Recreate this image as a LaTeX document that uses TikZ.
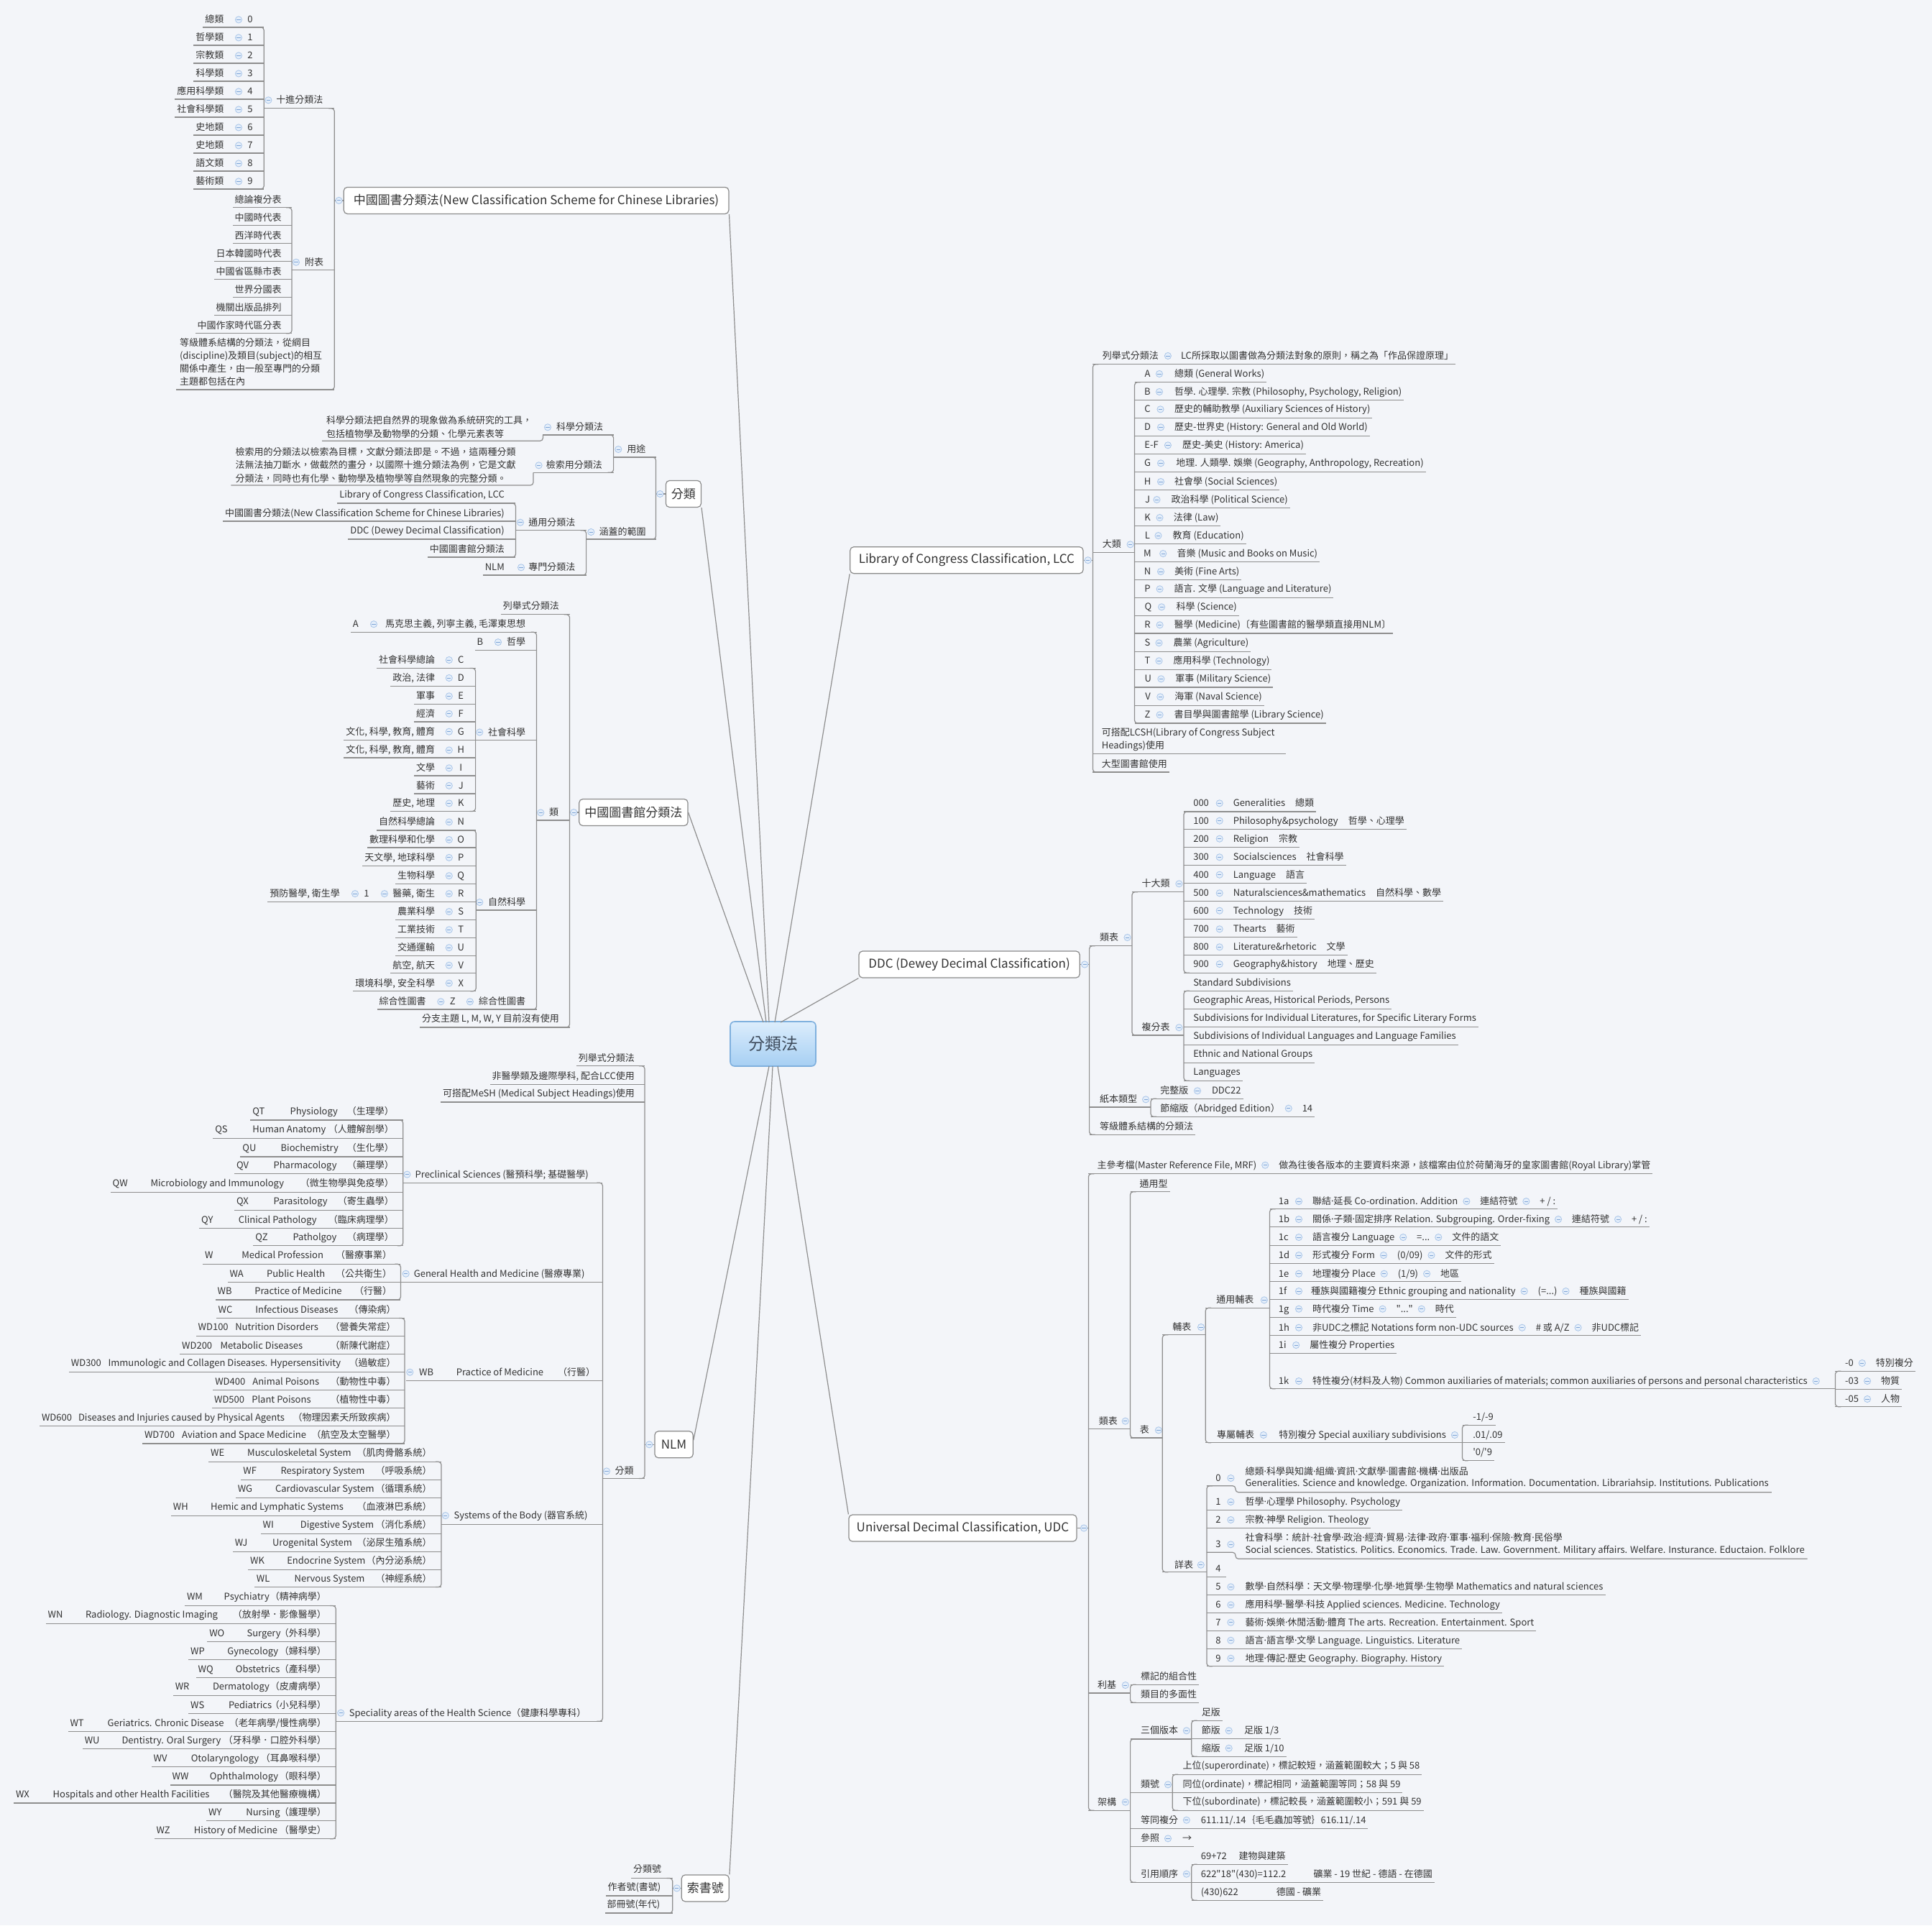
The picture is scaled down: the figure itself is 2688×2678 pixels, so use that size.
\documentclass[tikz,border=0pt]{standalone}
\usepackage{fontspec}
\setmainfont{Noto Sans CJK TC}
\newfontfamily\lat{Noto Sans}
\definecolor{bgc}{HTML}{F3F5F9}
\definecolor{lnc}{HTML}{8E8E8E}
\definecolor{txc}{HTML}{333333}
\definecolor{mnb}{HTML}{A9C5E8}
\definecolor{mnf}{HTML}{E4EEFA}
\definecolor{mnl}{HTML}{7EA4D6}
\definecolor{boxb}{HTML}{8A8A8A}
\definecolor{ctop}{HTML}{DCEDFC}
\definecolor{cbot}{HTML}{A6CFF3}
\definecolor{cbd}{HTML}{7FB0DE}
\definecolor{ctx}{HTML}{3E4B5B}
\tikzset{
 tx/.style={inner sep=0pt,outer sep=0pt,text=txc,font=\fontsize{6.5}{8}\selectfont},
 ln/.style={draw=lnc,line width=0.6pt},
 mn/.style={circle,draw=mnb,fill=mnf,line width=0.4pt,minimum size=4.6pt,inner sep=0pt,outer sep=0pt,
   path picture={\draw[mnl,line width=0.5pt] ([xshift=-1.3pt]path picture bounding box.center) -- ([xshift=1.3pt]path picture bounding box.center);}},
 bx/.style={draw=boxb,fill=white,rounded corners=2.5pt,line width=0.6pt,inner sep=0pt,text=txc,font=\fontsize{8.5}{10}\selectfont,minimum height=18.5pt},
}
\newcommand\dq{\XeTeXglyph\XeTeXcharglyph"22\relax}
\newcommand\sq{\XeTeXglyph\XeTeXcharglyph"27\relax}
\newcommand\md{{\lat ·}}
\newcounter{nn}
\newcommand\zE[3]{\stepcounter{nn}\node[tx,anchor=base east] (n\arabic{nn}) at (#1,#2+4.5) {#3};}
\newcommand\zW[3]{\stepcounter{nn}\node[tx,anchor=base west] (n\arabic{nn}) at (#1,#2+4.5) {#3};}
\newcommand\zC[3]{\stepcounter{nn}\node[tx,anchor=base] (n\arabic{nn}) at (#1,#2+4.5) {#3};}
\newcommand\zM[2]{\stepcounter{nn}\node[mn] (n\arabic{nn}) at (#1,#2) {};}
\newcommand\zMn[2]{\coordinate (w) at (0,#2);\path (n\arabic{nn}.east |- w) ++(#1,0) coordinate (v);\stepcounter{nn}\node[mn] (n\arabic{nn}) at (v) {};}
\newcommand\zWn[3]{\coordinate (w) at (0,#2+4.5);\path (n\arabic{nn}.east |- w) ++(#1,0) coordinate (v);\stepcounter{nn}\node[tx,anchor=base west] (n\arabic{nn}) at (v) {#3};}
\newcommand\zUL[2]{\coordinate (w) at (#1,#2);\draw[ln] (w) -- (n\arabic{nn}.west |- w) -- ++(-3,0);}
\newcommand\zUR[2]{\coordinate (w) at (#1,#2);\draw[ln] (w) -- (n\arabic{nn}.east |- w) -- ++(3,0);}
\newcommand\zU[3]{\draw[ln] (#1,#3) -- (#2,#3);}
\newcommand\zBL[3]{\draw[ln,rounded corners=2pt] (#1-8,#2) -- (#1,#2) -- (#1,#3) -- (#1-8,#3);}
\newcommand\zBR[3]{\draw[ln,rounded corners=2pt] (#1+8,#2) -- (#1,#2) -- (#1,#3) -- (#1+8,#3);}
\begin{document}
\begin{tikzpicture}[x=0.5pt,y=-0.5pt]
\useasboundingbox (0,0) rectangle (2688,2678);
\fill[fill=bgc] (0,0) rectangle (2688,2678);

% ---------- central topic and main topics
\node[draw=cbd,line width=0.8pt,top color=ctop,bottom color=cbot,rounded corners=3pt,minimum width=59.5pt,minimum height=31pt,inner sep=0pt,text=ctx,font=\fontsize{11.5}{12}\selectfont] (c) at (1075.5,1452) {分類法};
\node[bx,minimum width=267.8pt] (b1) at (746.1,278.9) {中國圖書分類法(New Classification Scheme for Chinese Libraries)};
\node[bx,minimum width=24.5pt] (b2) at (950.9,687) {分類};
\node[bx,minimum width=75.6pt] (b3) at (881.4,1130) {中國圖書館分類法};
\node[bx,minimum width=26.6pt] (b4) at (937.6,2009.3) {NLM};
\node[bx,minimum width=33pt] (b5) at (981.3,2626.4) {索書號};
\node[bx,minimum width=162.1pt] (b6) at (1344.9,779.2) {Library of Congress Classification, LCC};
\node[bx,minimum width=153.6pt] (b7) at (1348.6,1341.5) {DDC (Dewey Decimal Classification)};
\node[bx,minimum width=158.5pt] (b8) at (1339.5,2125.5) {Universal Decimal Classification, UDC};

\coordinate (c1) at (1070,1422);
\coordinate (c2) at (1066,1422);
\coordinate (c3) at (1062,1422);
\coordinate (c6) at (1078,1422);
\coordinate (c7) at (1086,1422);
\coordinate (c4) at (1070,1483);
\coordinate (c5) at (1075,1483);
\coordinate (c8) at (1082,1483);
\draw[ln] (c1) -- (b1.south east);
\draw[ln] (c2) -- (b2.south east);
\draw[ln] (c3) -- (b3.east);
\draw[ln] (c6) -- (b6.south west);
\draw[ln] (c7) -- (b7.south west);
\draw[ln] (c4) -- ([yshift=3pt]b4.east);
\draw[ln] (c5) -- (b5.north east);
\draw[ln] (c8) -- (b8.north west);

% ---------- Region 1: 中國圖書分類法
\zBL{465.3}{150.8}{541.9}
\draw[ln] (b1.west) -- (465.3,278.9);
\zM{471.5}{278.9}
\zBL{367.2}{37.9}{262.9}
\zC{348}{27.4}{0}\zM{332}{27.4}\zE{311.4}{27.4}{總類}\zUL{367.2}{37.9}
\zC{348}{52.4}{1}\zM{332}{52.4}\zE{311.4}{52.4}{哲學類}\zUL{367.2}{62.9}
\zC{348}{77.4}{2}\zM{332}{77.4}\zE{311.4}{77.4}{宗教類}\zUL{367.2}{87.9}
\zC{348}{102.4}{3}\zM{332}{102.4}\zE{311.4}{102.4}{科學類}\zUL{367.2}{112.9}
\zC{348}{127.4}{4}\zM{332}{127.4}\zE{311.4}{127.4}{應用科學類}\zUL{367.2}{137.9}
\zC{348}{152.4}{5}\zM{332}{152.4}\zE{311.4}{152.4}{社會科學類}\zUL{367.2}{162.9}
\zC{348}{177.4}{6}\zM{332}{177.4}\zE{311.4}{177.4}{史地類}\zUL{367.2}{187.9}
\zC{348}{202.4}{7}\zM{332}{202.4}\zE{311.4}{202.4}{史地類}\zUL{367.2}{212.9}
\zC{348}{227.4}{8}\zM{332}{227.4}\zE{311.4}{227.4}{語文類}\zUL{367.2}{237.9}
\zC{348}{252.4}{9}\zM{332}{252.4}\zE{311.4}{252.4}{藝術類}\zUL{367.2}{262.9}
\zW{384.3}{139.3}{十進分類法}\zM{373.4}{139.3}\zU{367.2}{465.3}{150.8}
\zBL{406}{288.8}{463.8}
\zE{391.5}{277.8}{總論複分表}\zUL{406}{288.8}
\zE{391.5}{302.8}{中國時代表}\zUL{406}{313.8}
\zE{391.5}{327.8}{西洋時代表}\zUL{406}{338.8}
\zE{391.5}{352.8}{日本韓國時代表}\zUL{406}{363.8}
\zE{391.5}{377.8}{中國省區縣市表}\zUL{406}{388.8}
\zE{391.5}{402.8}{世界分國表}\zUL{406}{413.8}
\zE{391.5}{427.8}{機關出版品排列}\zUL{406}{438.8}
\zE{391.5}{452.8}{中國作家時代區分表}\zUL{406}{463.8}
\zW{424}{364.8}{附表}\zM{412}{364.8}\zU{406}{465.3}{375.3}
\zW{250}{477}{等級體系結構的分類法，從綱目}
\zW{250}{494.6}{(discipline)及類目(subject)的相互}
\zW{250}{512.8}{關係中產生，由一般至專門的分類}
\zW{250}{531.4}{主題都包括在內}
\zU{244.8}{465.3}{541.9}

% ---------- Region 2: 分類
\zBL{912.5}{636}{750}
\draw[ln] (b2.west) -- (912.5,687);
\zM{918.3}{687}
\zW{872.3}{625}{用途}\zM{860.3}{625}\zU{853.6}{912.5}{636}
\zBL{853.6}{605}{657.3}
\zW{774}{594.3}{科學分類法}\zM{762}{594.3}\zU{755.4}{853.6}{605}
\zW{454}{585}{科學分類法把自然界的現象做為系統研究的工具，}
\zW{454}{604.3}{包括植物學及動物學的分類、化學元素表等}
\draw[ln,rounded corners=2pt] (448.2,613.3) -- (755.4,613.3) -- (755.4,605);
\zW{759.8}{647.3}{檢索用分類法}\zM{749.6}{647.3}\zU{742}{853.6}{657.3}
\zW{327.7}{629.3}{檢索用的分類法以檢索為目標，文獻分類法即是。不過，這兩種分類}
\zW{327.7}{647.3}{法無法抽刀斷水，做截然的畫分，以國際十進分類法為例，它是文獻}
\zW{327.7}{666}{分類法，同時也有化學、動物學及植物學等自然現象的完整分類。}
\draw[ln,rounded corners=2pt] (321.4,675) -- (742,675) -- (742,657.3);
\zW{833.5}{740}{涵蓋的範圍}\zM{822.3}{740}\zU{815.6}{912.5}{750}
\zBL{815.6}{737.7}{800}
\zW{735.3}{726.7}{通用分類法}\zM{724}{726.7}\zU{717.4}{815.6}{737.7}
\zBL{717.4}{700}{775}
\zE{701.8}{688.3}{Library of Congress Classification, LCC}\zUL{717.4}{700}
\zE{701.8}{714}{中國圖書分類法(New Classification Scheme for Chinese Libraries)}\zUL{717.4}{725}
\zE{701.8}{738.3}{DDC (Dewey Decimal Classification)}\zUL{717.4}{750}
\zE{701.8}{764}{中國圖書館分類法}\zUL{717.4}{775}
\zW{735.3}{789.3}{專門分類法}\zM{725}{789.3}\zE{701.8}{789.3}{NLM}\zUL{815.6}{800}

% ---------- Region 3: 中國圖書館分類法
\zBL{792.5}{854.8}{1428.9}
\draw[ln] (b3.west) -- (792.5,1130);
\zM{798.2}{1130}
\zE{777.9}{842.9}{列舉式分類法}\zUL{792.5}{854.8}
\zE{777.2}{1130.4}{類}\zM{752.3}{1130.4}\zU{746.5}{792.5}{1141}
\zBL{746.5}{879.3}{1404}
\zE{731.2}{868.2}{馬克思主義, 列寧主義, 毛澤東思想}\zM{520}{868.2}\zC{494.7}{868.2}{A}\zUL{746.5}{879.3}
\zE{731.2}{893.2}{哲學}\zM{693}{893.2}\zC{668}{893.2}{B}\zUL{746.5}{904.2}
\zE{731.2}{1018.5}{社會科學}\zM{667.3}{1018.5}\zU{661.6}{746.5}{1029.6}
\zBL{661.6}{929.5}{1128.4}
\zC{641.3}{918}{C}\zM{624.8}{918}\zE{605}{918}{社會科學總論}\zUL{661.6}{929.5}
\zC{641.3}{943}{D}\zM{624.8}{943}\zE{605}{943}{政治, 法律}\zUL{661.6}{954.4}
\zC{641.3}{968.3}{E}\zM{624.8}{968.3}\zE{605}{968.3}{軍事}\zUL{661.6}{979.4}
\zC{641.3}{992.8}{F}\zM{624.8}{992.8}\zE{605}{992.8}{經濟}\zUL{661.6}{1003.9}
\zC{641.3}{1017.7}{G}\zM{624.8}{1017.7}\zE{605}{1017.7}{文化, 科學, 教育, 體育}\zUL{661.6}{1029.6}
\zC{641.3}{1043.4}{H}\zM{624.8}{1043.4}\zE{605}{1043.4}{文化, 科學, 教育, 體育}\zUL{661.6}{1054}
\zC{641.3}{1068.3}{I}\zM{624.8}{1068.3}\zE{605}{1068.3}{文學}\zUL{661.6}{1079}
\zC{641.3}{1092.8}{J}\zM{624.8}{1092.8}\zE{605}{1092.8}{藝術}\zUL{661.6}{1103.9}
\zC{641.3}{1117.4}{K}\zM{624.8}{1117.4}\zE{605}{1117.4}{歷史, 地理}\zUL{661.6}{1128.4}
\zE{731.2}{1255}{自然科學}\zM{667.3}{1255}\zU{662.3}{746.5}{1266}
\zBL{662.3}{1154.9}{1378.7}
\zC{641.3}{1143.4}{N}\zM{624.8}{1143.4}\zE{605}{1143.4}{自然科學總論}\zUL{662.3}{1154.9}
\zC{641.3}{1168}{O}\zM{624.8}{1168}\zE{605}{1168}{數理科學和化學}\zUL{662.3}{1179}
\zC{641.3}{1192.9}{P}\zM{624.8}{1192.9}\zE{605}{1192.9}{天文學, 地球科學}\zUL{662.3}{1204.3}
\zC{641.3}{1218.2}{Q}\zM{624.8}{1218.2}\zE{605}{1218.2}{生物科學}\zUL{662.3}{1229.3}
\zC{641.3}{1243.1}{R}\zM{624.8}{1243.1}\zE{605}{1243.1}{醫藥, 衛生}\zM{534.9}{1243.1}\zC{510}{1243.1}{1}\zM{494}{1243.1}\zE{472.9}{1243.1}{預防醫學, 衛生學}\zUL{662.3}{1254.2}
\zC{641.3}{1268}{S}\zM{624.8}{1268}\zE{605}{1268}{農業科學}\zUL{662.3}{1279.5}
\zC{641.3}{1293.3}{T}\zM{624.8}{1293.3}\zE{605}{1293.3}{工業技術}\zUL{662.3}{1304.4}
\zC{641.3}{1318.2}{U}\zM{624.8}{1318.2}\zE{605}{1318.2}{交通運輸}\zUL{662.3}{1329.3}
\zC{641.3}{1342.7}{V}\zM{624.8}{1342.7}\zE{605}{1342.7}{航空, 航天}\zUL{662.3}{1353.8}
\zC{641.3}{1367.6}{X}\zM{624.8}{1367.6}\zE{605}{1367.6}{環境科學, 安全科學}\zUL{662.3}{1378.7}
\zE{731.2}{1393.3}{綜合性圖書}\zM{653.9}{1393.3}\zC{629.8}{1393.3}{Z}\zM{613.3}{1393.3}\zE{592.7}{1393.3}{綜合性圖書}\zUL{746.5}{1404}
\zE{777.9}{1417}{分支主題 L, M, W, Y 目前沒有使用}\zUL{792.5}{1428.9}

% ---------- Region 4/5: NLM
\zBL{897}{1482.7}{2056.5}
\draw[ln] (b4.west) -- (897,2009.3);
\zM{903.3}{2009.3}
\zE{882.9}{1471.8}{列舉式分類法}\zUL{897}{1482.7}
\zE{882.9}{1496.5}{非醫學類及邊際學科, 配合LCC使用}\zUL{897}{1508.2}
\zE{882.9}{1520.9}{可搭配MeSH (Medical Subject Headings)使用}\zUL{897}{1532.9}
\zE{881.7}{2046.4}{分類}\zM{844}{2046.4}\zU{838.4}{897}{2056.5}
\zBL{838.4}{1645.2}{2394.3}
% Preclinical
\zW{577.6}{1633.6}{Preclinical Sciences (醫預科學; 基礎醫學)}\zM{566.4}{1633.6}\zU{560.8}{838.4}{1645.2}
\zBL{560.8}{1558}{1732.8}
\zE{547.9}{1546.3}{（生理學）}\zW{403.6}{1546.3}{Physiology}\zW{351.4}{1546.3}{QT}\zUL{560.8}{1558}
\zE{547.9}{1571}{（人體解剖學）}\zW{351.4}{1571}{Human Anatomy}\zW{299.3}{1571}{QS}\zUL{560.8}{1583.4}
\zE{547.9}{1596.5}{（生化學）}\zW{390.7}{1596.5}{Biochemistry}\zW{337.4}{1596.5}{QU}\zUL{560.8}{1608.9}
\zE{547.9}{1620.8}{（藥理學）}\zW{380.6}{1620.8}{Pharmacology}\zW{329}{1620.8}{QV}\zUL{560.8}{1632.8}
\zE{547.9}{1646.3}{（微生物學與免疫學）}\zW{209.5}{1646.3}{Microbiology and Immunology}\zW{156.7}{1646.3}{QW}\zUL{560.8}{1658.3}
\zE{547.9}{1671}{（寄生蟲學）}\zW{380.6}{1671}{Parasitology}\zW{329}{1671}{QX}\zUL{560.8}{1683.4}
\zE{547.9}{1696.5}{（臨床病理學）}\zW{331.8}{1696.5}{Clinical Pathology}\zW{280.2}{1696.5}{QY}\zUL{560.8}{1708.1}
\zE{547.9}{1720.8}{（病理學）}\zW{407.6}{1720.8}{Patholgoy}\zW{355.4}{1720.8}{QZ}\zUL{560.8}{1732.8}
% General Health
\zW{575.9}{1771.7}{General Health and Medicine (醫療專業)}\zM{564.7}{1771.7}\zU{557.4}{838.4}{1783.3}
\zBL{557.4}{1758.3}{1808}
\zE{545}{1746.3}{（醫療事業）}\zW{336.3}{1746.3}{Medical Profession}\zW{285.2}{1746.3}{W}\zUL{557.4}{1758.3}
\zE{545}{1771.7}{（公共衛生）}\zW{371.1}{1771.7}{Public Health}\zW{319.5}{1771.7}{WA}\zUL{557.4}{1783.3}
\zE{545}{1796.4}{（行醫）}\zW{354.3}{1796.4}{Practice of Medicine}\zW{302.6}{1796.4}{WB}\zUL{557.4}{1808}
% WB Practice of Medicine
\zW{583.2}{1908.7}{WB}\zW{634.8}{1908.7}{Practice of Medicine}\zW{776}{1908.7}{（行醫）}\zM{570.3}{1908.7}\zU{564.7}{838.4}{1920.7}
\zBL{563}{1833.5}{2008}
\zE{550.7}{1821.5}{（傳染病）}\zW{355.4}{1821.5}{Infectious Diseases}\zW{303.7}{1821.5}{WC}\zUL{563}{1833.5}
\zE{550.7}{1846.2}{（營養失常症）}\zW{327.3}{1846.2}{Nutrition Disorders}\zW{275.7}{1846.2}{WD100}\zUL{563}{1858.2}
\zE{550.7}{1871.7}{（新陳代謝症）}\zW{306.6}{1871.7}{Metabolic Diseases}\zW{253.2}{1871.7}{WD200}\zUL{563}{1883.3}
\zE{550.7}{1896.4}{（過敏症）}\zW{150.5}{1896.4}{Immunologic and Collagen Diseases. Hypersensitivity}\zW{98.9}{1896.4}{WD300}\zUL{563}{1908.7}
\zE{550.7}{1921.8}{（動物性中毒）}\zW{351.4}{1921.8}{Animal Poisons}\zW{299.3}{1921.8}{WD400}\zUL{563}{1933.5}
\zE{550.7}{1946.9}{（植物性中毒）}\zW{350.3}{1946.9}{Plant Poisons}\zW{298.1}{1946.9}{WD500}\zUL{563}{1958.2}
\zE{550.7}{1971.6}{（物理因素夭所致疾病）}\zW{109}{1971.6}{Diseases and Injuries caused by Physical Agents}\zW{58}{1971.6}{WD600}\zUL{563}{1983.3}
\zE{550.7}{1996}{（航空及太空醫學）}\zW{253.2}{1996}{Aviation and Space Medicine}\zW{201}{1996}{WD700}\zUL{563}{2008}
% Systems of the Body
\zW{631.5}{2108.1}{Systems of the Body (器官系統)}\zM{619.8}{2108.1}\zU{614}{838.4}{2120.2}
\zBL{614}{2033.3}{2207.5}
\zE{600.7}{2020.8}{（肌肉骨骼系統）}\zW{344.2}{2020.8}{Musculoskeletal System}\zW{293.1}{2020.8}{WE}\zUL{614}{2033.3}
\zE{600.7}{2046.3}{（呼吸系統）}\zW{390.6}{2046.3}{Respiratory System}\zW{338.4}{2046.3}{WF}\zUL{614}{2058.4}
\zE{600.7}{2071.3}{（循環系統）}\zW{383}{2071.3}{Cardiovascular System}\zW{330.8}{2071.3}{WG}\zUL{614}{2083.4}
\zE{600.7}{2096}{（血液淋巴系統）}\zW{293.1}{2096}{Hemic and Lymphatic Systems}\zW{240.9}{2096}{WH}\zUL{614}{2108.1}
\zE{600.7}{2121.1}{（消化系統）}\zW{417.9}{2121.1}{Digestive System}\zW{365.6}{2121.1}{WI}\zUL{614}{2133.2}
\zE{600.7}{2146.1}{（泌尿生殖系統）}\zW{379}{2146.1}{Urogenital System}\zW{326.8}{2146.1}{WJ}\zUL{614}{2158.2}
\zE{600.7}{2171.2}{（內分泌系統）}\zW{399.3}{2171.2}{Endocrine System}\zW{348.2}{2171.2}{WK}\zUL{614}{2183.3}
\zE{600.7}{2195.8}{（神經系統）}\zW{409.7}{2195.8}{Nervous System}\zW{356.9}{2195.8}{WL}\zUL{614}{2207.5}
% Speciality areas
\zW{485.8}{2382.6}{Speciality areas of the Health Science（健康科學專科）}\zM{474.2}{2382.6}\zU{467.2}{838.4}{2394.3}
\zBL{467.2}{2233.5}{2557.7}
\zE{453.9}{2221.4}{（精神病學）}\zW{311.7}{2221.4}{Psychiatry}\zW{260}{2221.4}{WM}\zUL{467.2}{2233.5}
\zE{453.9}{2246.4}{（放射學．影像醫學）}\zW{119}{2246.4}{Radiology. Diagnostic Imaging}\zW{66.7}{2246.4}{WN}\zUL{467.2}{2258.5}
\zE{453.9}{2271.5}{（外科學）}\zW{343.6}{2271.5}{Surgery}\zW{291.4}{2271.5}{WO}\zUL{467.2}{2283.6}
\zE{453.9}{2296.6}{（婦科學）}\zW{316.3}{2296.6}{Gynecology}\zW{265.2}{2296.6}{WP}\zUL{467.2}{2308.7}
\zE{453.9}{2321.7}{（產科學）}\zW{327.9}{2321.7}{Obstetrics}\zW{275.7}{2321.7}{WQ}\zUL{467.2}{2333.8}
\zE{453.9}{2346.3}{（皮膚病學）}\zW{296}{2346.3}{Dermatology}\zW{243.8}{2346.3}{WR}\zUL{467.2}{2358.4}
\zE{453.9}{2371.8}{（小兒科學）}\zW{318}{2371.8}{Pediatrics}\zW{265.2}{2371.8}{WS}\zUL{467.2}{2383.5}
\zE{453.9}{2396.5}{（老年病學/慢性病學）}\zW{149.7}{2396.5}{Geriatrics.  Chronic Disease}\zW{97.5}{2396.5}{WT}\zUL{467.2}{2408.1}
\zE{453.9}{2421.1}{（牙科學．口腔外科學）}\zW{169.5}{2421.1}{Dentistry. Oral Surgery}\zW{117.8}{2421.1}{WU}\zUL{467.2}{2432.8}
\zE{453.9}{2446.2}{（耳鼻喉科學）}\zW{265.8}{2446.2}{Otolaryngology}\zW{213.6}{2446.2}{WV}\zUL{467.2}{2457.8}
\zE{453.9}{2471.3}{（眼科學）}\zW{291.9}{2471.3}{Ophthalmology}\zW{239.7}{2471.3}{WW}\zUL{467.2}{2482.9}
\zE{453.9}{2495.9}{（醫院及其他醫療機構）}\zW{73.7}{2495.9}{Hospitals and other Health Facilities}\zW{22}{2495.9}{WX}\zUL{467.2}{2508}
\zE{453.9}{2521}{（護理學）}\zW{342.4}{2521}{Nursing}\zW{290.2}{2521}{WY}\zUL{467.2}{2532.6}
\zE{453.9}{2545.6}{（醫學史）}\zW{269.9}{2545.6}{History of Medicine}\zW{217.6}{2545.6}{WZ}\zUL{467.2}{2557.7}

% ---------- 索書號
\zBL{935.7}{2612.4}{2661}
\draw[ln] (b5.west) -- (935.7,2626.4);
\zM{941.7}{2626.4}
\zE{920}{2600}{分類號}\zUL{935.7}{2612.4}
\zE{919.3}{2624.8}{作者號(書號)}\zUL{935.7}{2637}
\zE{918.3}{2649.4}{部冊號(年代)}\zUL{935.7}{2661}

% ---------- LCC
\zBR{1520.4}{506.7}{1074}
\draw[ln] (b6.east) -- (1520.4,779.2);
\zM{1513.7}{779.2}
\zW{1533.8}{495}{列舉式分類法}\zM{1624.9}{495}\zW{1643}{495}{LC所採取以圖書做為分類法對象的原則，稱之為「作品保證原理」}\zUR{1520.4}{506.7}
\zW{1533.8}{757.3}{大類}\zM{1572.6}{757.3}\zU{1520.4}{1578.5}{768.3}
\zBR{1578.5}{531.7}{1006}
\zC{1596.5}{520}{A}\zM{1613}{520}\zW{1634}{520}{總類 (General Works)}\zUR{1578.5}{531.7}
\zC{1596.5}{545}{B}\zM{1613}{545}\zW{1634}{545}{哲學. 心理學. 宗教 (Philosophy, Psychology, Religion)}\zUR{1578.5}{556.7}
\zC{1596.5}{569.3}{C}\zM{1614.5}{569.3}\zW{1634}{569.3}{歷史的輔助教學 (Auxiliary Sciences of History)}\zUR{1578.5}{581.7}
\zC{1596.5}{594.3}{D}\zM{1615}{594.3}\zW{1634}{594.3}{歷史-世界史 (History: General and Old World)}\zUR{1578.5}{606.7}
\zC{1602}{619.3}{E-F}\zM{1624.9}{619.3}\zW{1645}{619.3}{歷史-美史 (History: America)}\zUR{1578.5}{631.7}
\zC{1596.5}{644.3}{G}\zM{1615}{644.3}\zW{1636.3}{644.3}{地理. 人類學. 娛樂 (Geography, Anthropology, Recreation)}\zUR{1578.5}{656.7}
\zC{1596.5}{670}{H}\zM{1615}{670}\zW{1634}{670}{社會學 (Social Sciences)}\zUR{1578.5}{681.7}
\zC{1596.5}{695}{J}\zM{1609.5}{695}\zW{1629.6}{695}{政治科學 (Political Science)}\zUR{1578.5}{706.7}
\zC{1596.5}{720}{K}\zM{1613.5}{720}\zW{1632.9}{720}{法律 (Law)}\zUR{1578.5}{731.7}
\zC{1596.5}{745}{L}\zM{1611.5}{745}\zW{1631.6}{745}{教育 (Education)}\zUR{1578.5}{756.7}
\zC{1596.5}{770}{M}\zM{1618.2}{770}\zW{1637.6}{770}{音樂 (Music and Books on Music)}\zUR{1578.5}{781.7}
\zC{1596.5}{795}{N}\zM{1615}{795}\zW{1634}{795}{美術 (Fine Arts)}\zUR{1578.5}{806.7}
\zC{1596.5}{819.3}{P}\zM{1613.6}{819.3}\zW{1633.6}{819.3}{語言. 文學 (Language and Literature)}\zUR{1578.5}{831.7}
\zC{1597.5}{844.3}{Q}\zM{1616.1}{844.3}\zW{1636.5}{844.3}{科學 (Science)}\zUR{1578.5}{856.7}
\zC{1596.5}{869.3}{R}\zM{1613.6}{869.3}\zW{1633.6}{869.3}{醫學 (Medicine)〔有些圖書館的醫學類直接用NLM〕}\zUR{1578.5}{881}
\zC{1596.5}{894.3}{S}\zM{1612.5}{894.3}\zW{1632.5}{894.3}{農業 (Agriculture)}\zUR{1578.5}{906.7}
\zC{1596.5}{919.3}{T}\zM{1612.5}{919.3}\zW{1632.5}{919.3}{應用科學 (Technology)}\zUR{1578.5}{931.7}
\zC{1597.2}{944.3}{U}\zM{1615.4}{944.3}\zW{1635.4}{944.3}{軍事 (Military Science)}\zUR{1578.5}{956}
\zC{1597}{969.3}{V}\zM{1614.3}{969.3}\zW{1634.3}{969.3}{海軍 (Naval Science)}\zUR{1578.5}{981.7}
\zC{1596.5}{994.3}{Z}\zM{1613.6}{994.3}\zW{1633.6}{994.3}{書目學與圖書館學 (Library Science)}\zUR{1578.5}{1006}
\zW{1532.9}{1019.3}{可搭配LCSH(Library of Congress Subject}
\zW{1532.9}{1037.3}{Headings)使用}
\zU{1520.4}{1788.8}{1048.7}
\zW{1532.9}{1063.3}{大型圖書館使用}\zUR{1520.4}{1074}

% ---------- DDC
\zBR{1515.6}{1315.7}{1578.3}
\draw[ln] (b7.east) -- (1515.6,1341.5);
\zM{1509.1}{1341.5}
\zW{1530.2}{1304}{類表}\zM{1568.5}{1304}\zU{1515.6}{1575}{1315.7}
\zBR{1575}{1240.7}{1440}
\zW{1588.7}{1229.3}{十大類}\zM{1640.4}{1229.3}\zU{1575}{1647}{1240.7}
\zBR{1647}{1129}{1353.3}
\zW{1660.3}{1117.3}{000}\zM{1696.7}{1117.3}\zW{1715.8}{1117.3}{Generalities}\zWn{14}{1117.3}{總類}\zUR{1647}{1129}
\zW{1660.3}{1141.7}{100}\zM{1696.7}{1141.7}\zW{1715.8}{1141.7}{Philosophy\&psychology}\zWn{14}{1141.7}{哲學、心理學}\zUR{1647}{1153.3}
\zW{1660.3}{1166.7}{200}\zM{1696.7}{1166.7}\zW{1715.8}{1166.7}{Religion}\zWn{14}{1166.7}{宗教}\zUR{1647}{1178.3}
\zW{1660.3}{1192.3}{300}\zM{1696.7}{1192.3}\zW{1715.8}{1192.3}{Socialsciences}\zWn{14}{1192.3}{社會科學}\zUR{1647}{1203.3}
\zW{1660.3}{1216.7}{400}\zM{1696.7}{1216.7}\zW{1715.8}{1216.7}{Language}\zWn{14}{1216.7}{語言}\zUR{1647}{1228.3}
\zW{1660.3}{1242.3}{500}\zM{1696.7}{1242.3}\zW{1715.8}{1242.3}{Naturalsciences\&mathematics}\zWn{14}{1242.3}{自然科學、數學}\zUR{1647}{1253.3}
\zW{1660.3}{1266.7}{600}\zM{1696.7}{1266.7}\zW{1715.8}{1266.7}{Technology}\zWn{14}{1266.7}{技術}\zUR{1647}{1278.3}
\zW{1660.3}{1292.3}{700}\zM{1696.7}{1292.3}\zW{1715.8}{1292.3}{Thearts}\zWn{14}{1292.3}{藝術}\zUR{1647}{1303.3}
\zW{1660.3}{1317.3}{800}\zM{1696.7}{1317.3}\zW{1715.8}{1317.3}{Literature\&rhetoric}\zWn{14}{1317.3}{文學}\zUR{1647}{1328.3}
\zW{1660.3}{1341}{900}\zM{1696.7}{1341}\zW{1715.8}{1341}{Geography\&history}\zWn{14}{1341}{地理、歷史}\zUR{1647}{1353.3}
\zW{1588.7}{1429.3}{複分表}\zM{1640.4}{1429.3}\zU{1575}{1647}{1440}
\zBR{1647}{1378.3}{1503.3}
\zW{1660.3}{1367.3}{Standard Subdivisions}\zUR{1647}{1378.3}
\zW{1660.3}{1391}{Geographic Areas, Historical Periods, Persons}\zUR{1647}{1403.3}
\zW{1660.3}{1416}{Subdivisions for Individual Literatures, for Specific Literary Forms}\zUR{1647}{1428.3}
\zW{1660.3}{1441}{Subdivisions of Individual Languages and Language Families}\zUR{1647}{1453.3}
\zW{1660.3}{1466}{Ethnic and National Groups}\zUR{1647}{1478.3}
\zW{1660.3}{1491}{Languages}\zUR{1647}{1503.3}
\zW{1530.2}{1529.3}{紙本類型}\zM{1594.1}{1529.3}\zU{1515.6}{1601}{1540}
\zBR{1601}{1528.3}{1553.3}
\zW{1614.4}{1517.3}{完整版}\zM{1666}{1517.3}\zW{1686}{1517.3}{DDC22}\zUR{1601}{1528.3}
\zW{1614.4}{1541.7}{節縮版（Abridged Edition）}\zMn{12}{1541.7}\zWn{14.4}{1541.7}{14}\zUR{1601}{1553.3}
\zW{1530.2}{1567.3}{等級體系結構的分類法}\zUR{1515.6}{1578.3}

% ---------- UDC
\zBR{1514.4}{1632.7}{2518.3}
\draw[ln] (b8.east) -- (1514.4,2125.5);
\zM{1508}{2125.5}
\zW{1526.7}{1620.7}{主參考檔(Master Reference File, MRF)}\zMn{12}{1620.7}\zWn{14.4}{1620.7}{做為往後各版本的主要資料來源，該檔案由位於荷蘭海牙的皇家圖書館(Royal Library)掌管}\zUR{1514.4}{1632.7}
\zW{1528.8}{1976.7}{類表}\zM{1565.7}{1976.7}\zU{1514.4}{1572.5}{1987.7}
\zBR{1572.5}{1657.7}{2000}
\zW{1585.5}{1646.7}{通用型}\zUR{1572.5}{1657.7}
\zW{1585.8}{1989.3}{表}\zM{1611.9}{1989.3}\zU{1572.5}{1617.3}{2000}
\zBR{1617.3}{1856.7}{2186.7}
\zW{1631.3}{1846}{輔表}\zM{1671}{1846}\zU{1617.3}{1677.2}{1856.7}
\zBR{1677.2}{1819.3}{2006.7}
\zW{1692.4}{1808.3}{通用輔表}\zM{1758.9}{1808.3}\zU{1677.2}{1766.5}{1819.3}
\zBR{1766.5}{1681.7}{1931.7}
\zW{1778.8}{1671}{1a}\zM{1807}{1671}\zW{1826.1}{1671}{聯結\md{}延長 Co-ordination. Addition}\zMn{12}{1671}\zWn{14.4}{1671}{連結符號}\zMn{12}{1671}\zWn{14.4}{1671}{+ / :}\zUR{1766.5}{1681.7}
\zW{1778.8}{1696}{1b}\zM{1807}{1696}\zW{1826.1}{1696}{關係\md{}子類\md{}固定排序 Relation. Subgrouping. Order-fixing}\zMn{12}{1696}\zWn{14.4}{1696}{連結符號}\zMn{12}{1696}\zWn{14.4}{1696}{+ / :}\zUR{1766.5}{1706.7}
\zW{1778.8}{1721}{1c}\zM{1807}{1721}\zW{1826.1}{1721}{語言複分 Language}\zMn{12}{1721}\zWn{14.4}{1721}{=...}\zMn{12}{1721}\zWn{14.4}{1721}{文件的語文}\zUR{1766.5}{1732.3}
\zW{1778.8}{1746}{1d}\zM{1807}{1746}\zW{1826.1}{1746}{形式複分 Form}\zMn{12}{1746}\zWn{14.4}{1746}{(0/09)}\zMn{12}{1746}\zWn{14.4}{1746}{文件的形式}\zUR{1766.5}{1757.3}
\zW{1778.8}{1771.7}{1e}\zM{1807}{1771.7}\zW{1826.1}{1771.7}{地理複分 Place}\zMn{12}{1771.7}\zWn{14.4}{1771.7}{(1/9)}\zMn{12}{1771.7}\zWn{14.4}{1771.7}{地區}\zUR{1766.5}{1782.7}
\zW{1778.8}{1796}{1f}\zM{1807}{1796}\zW{1824}{1796}{種族與國籍複分 Ethnic grouping and nationality}\zMn{12}{1796}\zWn{14.4}{1796}{(=...)}\zMn{12}{1796}\zWn{14.4}{1796}{種族與國籍}\zUR{1766.5}{1807.3}
\zW{1778.8}{1820.7}{1g}\zM{1807}{1820.7}\zW{1826.1}{1820.7}{時代複分 Time}\zMn{12}{1820.7}\zWn{14.4}{1820.7}{\dq...\dq}\zMn{12}{1820.7}\zWn{14.4}{1820.7}{時代}\zUR{1766.5}{1832.3}
\zW{1778.8}{1846.7}{1h}\zM{1807}{1846.7}\zW{1826.1}{1846.7}{非UDC之標記 Notations form non-UDC sources}\zMn{12}{1846.7}\zWn{14.4}{1846.7}{\# 或 A/Z}\zMn{12}{1846.7}\zWn{14.4}{1846.7}{非UDC標記}\zUR{1766.5}{1857.3}
\zW{1778.8}{1871}{1i}\zM{1803.2}{1871}\zW{1822.3}{1871}{屬性複分 Properties}\zUR{1766.5}{1882.3}
\zW{1778.8}{1921}{1k}\zM{1807}{1921}\zW{1826.1}{1921}{特性複分(材料及人物) Common auxiliaries of materials; common auxiliaries of persons and personal characteristics}\zMn{12}{1921}\zU{1766.5}{2553.4}{1931.7}
\zBR{2553.4}{1907.3}{1956.7}
\zW{2567.1}{1896}{-0}\zMn{12}{1896}\zWn{14.4}{1896}{特別複分}\zUR{2553.4}{1907.3}
\zW{2567.1}{1921}{-03}\zMn{12}{1921}\zWn{14.4}{1921}{物質}\zUR{2553.4}{1932.3}
\zW{2567.1}{1946}{-05}\zMn{12}{1946}\zWn{14.4}{1946}{人物}\zUR{2553.4}{1956.7}
\zW{1693}{1996}{專屬輔表}\zM{1757.9}{1996}\zW{1779.4}{1996}{特別複分 Special auxiliary subdivisions}\zMn{12}{1996}\zU{1677.2}{2034.5}{2006.7}
\zBR{2034.5}{1982.3}{2031.7}
\zW{2049.3}{1971}{-1/-9}\zUR{2034.5}{1982.3}
\zW{2049.3}{1995.7}{.01/.09}\zUR{2034.5}{2006.7}
\zW{2049.3}{2020}{\sq0/\sq9}\zUR{2034.5}{2031.7}
\zW{1634}{2176.7}{詳表}\zM{1670.8}{2176.7}\zU{1617.3}{1678.9}{2186.7}
\zBR{1678.9}{2066.7}{2317.7}
\zC{1695}{2056}{0}\zM{1712.4}{2056}\zW{1732.5}{2046.7}{總類\md{}科學與知識\md{}組織\md{}資訊\md{}文獻學\md{}圖書館\md{}機構\md{}出版品}\zW{1732.5}{2063.3}{Generalities. Science and knowledge. Organization. Information. Documentation. Librariahsip. Institutions. Publications}
\coordinate (w) at (1719,2075.7);
\draw[ln,rounded corners=2pt] (1678.9,2066.7) -- (1719,2066.7) -- (1719,2075.7) -- (n\arabic{nn}.east |- w) -- ++(3,0);
\zC{1695}{2089}{1}\zM{1712.4}{2089}\zW{1732.5}{2089}{哲學\md{}心理學 Philosophy. Psychology}\zUR{1678.9}{2100.7}
\zC{1695}{2114}{2}\zM{1712.4}{2114}\zW{1732.5}{2114}{宗教\md{}神學 Religion. Theology}\zUR{1678.9}{2125.7}
\zC{1695}{2148.3}{3}\zM{1712.4}{2148.3}\zW{1732.5}{2139}{社會科學：統計\md{}社會學\md{}政治\md{}經濟\md{}貿易\md{}法律\md{}政府\md{}軍事\md{}福利\md{}保險\md{}教育\md{}民俗學}\zW{1732.5}{2156}{Social sciences. Statistics. Politics. Economics. Trade. Law. Government. Military affairs. Welfare. Insturance. Eductaion. Folklore}
\coordinate (w) at (1719,2168.3);
\draw[ln,rounded corners=2pt] (1678.9,2159.3) -- (1719,2159.3) -- (1719,2168.3) -- (n\arabic{nn}.east |- w) -- ++(3,0);
\zC{1695}{2181.7}{4}\zU{1678.9}{1706}{2193.3}
\zC{1695}{2207.3}{5}\zM{1712.4}{2207.3}\zW{1732.5}{2207.3}{數學\md{}自然科學：天文學\md{}物理學\md{}化學\md{}地質學\md{}生物學 Mathematics and natural sciences}\zUR{1678.9}{2218.3}
\zC{1695}{2232.3}{6}\zM{1712.4}{2232.3}\zW{1732.5}{2232.3}{應用科學\md{}醫學\md{}科技 Applied sciences. Medicine. Technology}\zUR{1678.9}{2243.3}
\zC{1695}{2256.7}{7}\zM{1712.4}{2256.7}\zW{1732.5}{2256.7}{藝術\md{}娛樂\md{}休閒活動\md{}體育 The arts. Recreation. Entertainment. Sport}\zUR{1678.9}{2268.3}
\zC{1695}{2281.7}{8}\zM{1712.4}{2281.7}\zW{1732.5}{2281.7}{語言\md{}語言學\md{}文學 Language. Linguistics. Literature}\zUR{1678.9}{2293.3}
\zC{1695}{2306.7}{9}\zM{1712.4}{2306.7}\zW{1732.5}{2306.7}{地理\md{}傳記\md{}歷史 Geography. Biography. History}\zUR{1678.9}{2317.7}
\zW{1527.2}{2344}{利基}\zM{1565.8}{2344}\zU{1514.4}{1572.6}{2355}
\zBR{1572.6}{2343.3}{2368.3}
\zW{1587.1}{2331.5}{標記的組合性}\zUR{1572.6}{2343.3}
\zW{1587.1}{2357.3}{類目的多面性}\zUR{1572.6}{2368.3}
\zW{1527.2}{2506.7}{架構}\zM{1565.8}{2506.7}\zU{1514.4}{1572.6}{2518.3}
\zBR{1572.6}{2419}{2618.3}
\zW{1587.1}{2407.3}{三個版本}\zM{1650.8}{2407.3}\zU{1572.6}{1657.7}{2419}
\zBR{1657.7}{2393.3}{2443.3}
\zW{1671.8}{2382.3}{足版}\zUR{1657.7}{2393.3}
\zW{1671.8}{2407.3}{節版}\zM{1709.7}{2407.3}\zW{1731}{2407.3}{足版 1/3}\zUR{1657.7}{2418.3}
\zW{1671.8}{2431.7}{縮版}\zM{1709.7}{2431.7}\zW{1731}{2431.7}{足版 1/10}\zUR{1657.7}{2443.3}
\zW{1587.1}{2482.3}{類號}\zM{1625}{2482.3}\zU{1572.6}{1631.2}{2493.3}
\zBR{1631.2}{2468.3}{2518.3}
\zW{1645.6}{2456}{上位(superordinate)，標記較短，涵蓋範圍較大；5 與 58}\zUR{1631.2}{2468.3}
\zW{1645.6}{2481.7}{同位(ordinate)，標記相同，涵蓋範圍等同；58 與 59}\zUR{1631.2}{2493.3}
\zW{1645.6}{2506}{下位(subordinate)，標記較長，涵蓋範圍較小；591 與 59}\zUR{1631.2}{2518.3}
\zW{1587.1}{2531.7}{等同複分}\zM{1650.8}{2531.7}\zW{1670.8}{2531.7}{611.11/.14｛毛毛蟲加等號｝616.11/.14}\zUR{1572.6}{2543.3}
\zW{1587.1}{2557.3}{參照}\zM{1625}{2557.3}\zW{1645}{2557.3}{→}\zUR{1572.6}{2568.3}
\zW{1587.1}{2606.7}{引用順序}\zM{1650.8}{2606.7}\zU{1572.6}{1657.7}{2618.3}
\zBR{1657.7}{2593.3}{2643.3}
\zW{1670.8}{2581.7}{69+72}\zW{1723.5}{2581.7}{建物與建築}\zUR{1657.7}{2593.3}
\zW{1670.8}{2606.7}{622\dq18\dq(430)=112.2}\zW{1827.5}{2606.7}{礦業 - 19 世紀 - 德語 - 在德國}\zUR{1657.7}{2618.3}
\zW{1670.8}{2631.7}{(430)622}\zW{1775.8}{2631.7}{德國 - 礦業}\zUR{1657.7}{2643.3}
\end{tikzpicture}
\end{document}
